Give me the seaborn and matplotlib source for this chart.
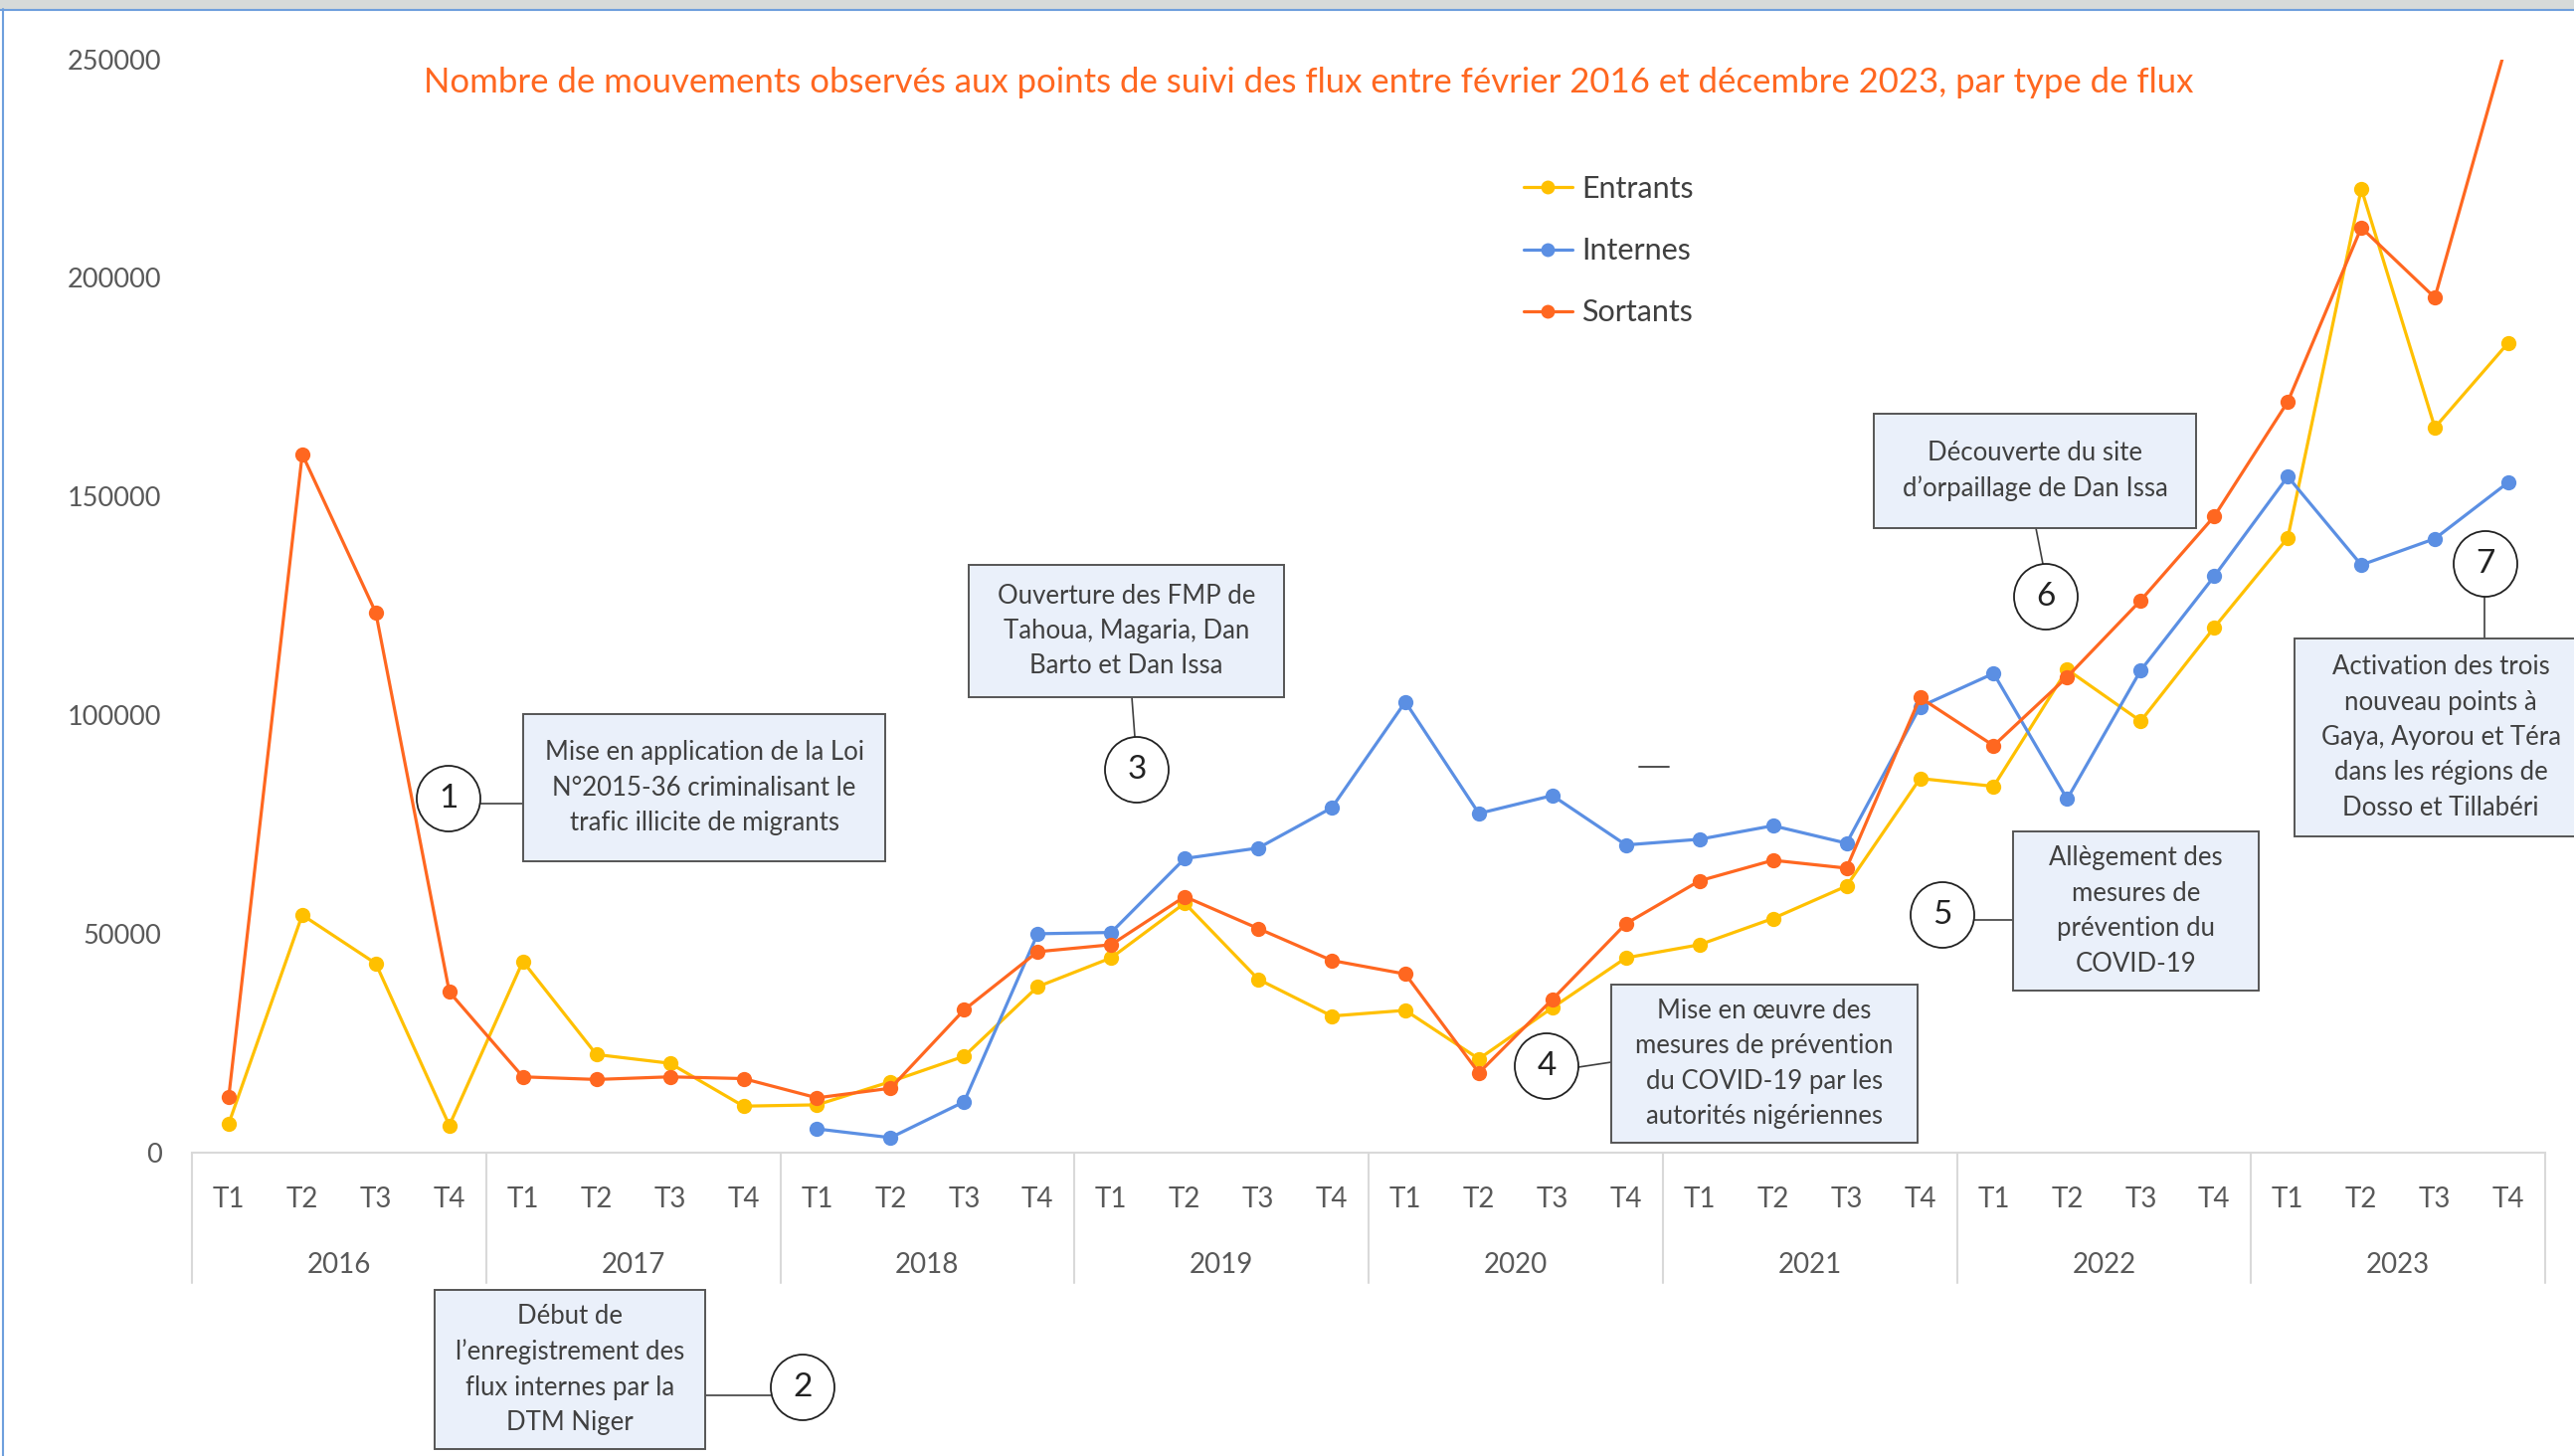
import matplotlib
matplotlib.use("Agg")
import matplotlib.pyplot as plt
import matplotlib.transforms as mtransforms
from matplotlib.patches import Rectangle, Ellipse
from matplotlib.lines import Line2D
import numpy as np
import pandas as pd
import seaborn as sns

# ---------------- data ----------------
years = ["2016", "2017", "2018", "2019", "2020", "2021", "2022", "2023"]
quarters = ["T1", "T2", "T3", "T4"]
series_names = ["Entrants", "Internes", "Sortants"]

entrants = [6700, 54400, 43300, 6300,
            43800, 22500, 20500, 10700,
            11000, 16300, 22100, 38000,
            44600, 57100, 39700, 31300,
            32600, 21500, 33200, 44600,
            47600, 53600, 61000, 85600,
            83800, 110500, 98700, 120100,
            140600, 220400, 165800, 185200]

internes = [np.nan, np.nan, np.nan, np.nan,
            np.nan, np.nan, np.nan, np.nan,
            5500, 3500, 11700, 50100,
            50400, 67300, 69700, 78900,
            103100, 77600, 81700, 70400,
            71700, 74800, 70800, 102000,
            109600, 80900, 110300, 131800,
            154600, 134400, 140400, 153300]

sortants = [12800, 159700, 123500, 36800,
            17400, 16800, 17400, 17000,
            12600, 14800, 32700, 46000,
            47600, 58600, 51300, 44000,
            40900, 18300, 35100, 52400,
            62200, 66900, 65100, 104100,
            93100, 108800, 126300, 145500,
            171700, 211500, 195500, 255000]

yticks = [0, 50000, 100000, 150000, 200000, 250000]

title = ("Nombre de mouvements observés aux points de suivi des flux entre "
         "février 2016 et décembre 2023, par type de flux")

notes = [
    "Mise en application de la Loi\nN°2015-36 criminalisant le\ntrafic illicite de migrants",
    "Début de\nl’enregistrement des\nflux internes par la\nDTM Niger",
    "Ouverture des FMP de\nTahoua, Magaria, Dan\nBarto et Dan Issa",
    "Mise en œuvre des\nmesures de prévention\ndu COVID-19 par les\nautorités nigériennes",
    "Allègement des\nmesures de\nprévention du\nCOVID-19",
    "Découverte du site\nd’orpaillage de Dan Issa",
    "Activation des trois\nnouveau points à\nGaya, Ayorou et Téra\ndans les régions de\nDosso et Tillabéri",
]

# ---------------- style ----------------
colors = {"Entrants": "#FFC000", "Internes": "#5B8FE3", "Sortants": "#FF6720"}
TXT = "#404040"
TICK = "#595959"
GRID = "#D9D9D9"
BOXFILL = "#EAF0FA"
BOXEDGE = "#555555"

sns.set_theme(style="white")
plt.rcParams["font.family"] = ["Lato", "DejaVu Sans"]

W, H = 2588, 1464
fig = plt.figure(figsize=(W / 100, H / 100), dpi=100)
fig.patch.set_facecolor("white")

X0, X1 = 193, 2559
Y0, YT = 1159.3, 59.5
ax = fig.add_axes([X0 / W, 1 - Y0 / H, (X1 - X0) / W, (Y0 - YT) / H])

labels_period = [f"{q} {y}" for y in years for q in quarters]
n = len(labels_period)
df = pd.DataFrame({
    "idx": list(range(n)) * 3,
    "serie": ["Entrants"] * n + ["Internes"] * n + ["Sortants"] * n,
    "valeur": entrants + internes + sortants,
}).dropna()

sns.lineplot(data=df, x="idx", y="valeur", hue="serie", hue_order=series_names,
             palette=colors, marker="o", markersize=11, markeredgewidth=0,
             linewidth=2.3, errorbar=None, legend=False, ax=ax)

ax.set_xlim(-0.5, n - 0.5)
ax.set_ylim(0, 250000)
ax.set_yticks(yticks)
ax.set_yticklabels([str(v) for v in yticks])
ax.tick_params(axis="y", length=0, pad=22, labelsize=19.5, labelcolor=TICK)
ax.set_xticks([])
ax.set_xlabel("")
ax.set_ylabel("")
for s in ["left", "right", "top"]:
    ax.spines[s].set_visible(False)
ax.spines["bottom"].set_color(GRID)
ax.spines["bottom"].set_linewidth(1.5)
ax.grid(False)

# category axis (quarters + years)
blend = mtransforms.blended_transform_factory(ax.transData, fig.transFigure)
for i, lab in enumerate(labels_period):
    ax.text(i, 1 - 1214 / H, lab.split()[0], transform=blend, ha="center",
            va="baseline", fontsize=20, color=TICK)
for k, y in enumerate(years):
    ax.text(4 * k + 1.5, 1 - 1280 / H, y, transform=blend, ha="center",
            va="baseline", fontsize=20, color=TICK)
for k in range(len(years) + 1):
    b = 4 * k - 0.5
    fig.add_artist(Line2D([b, b], [1 - Y0 / H, 1 - 1290 / H], transform=blend,
                          color=GRID, lw=1.5))

# title
fig.text(1316 / W, 1 - 83 / H, title, ha="center", va="center",
         fontsize=25, color="#FF6720")

# legend
handles = [Line2D([0], [0], color=colors[s], marker="o", markersize=10,
                  markeredgewidth=0, lw=2.3) for s in series_names]
leg = fig.legend(handles, series_names, loc="upper left",
                 bbox_to_anchor=(1532 / W, 1 - 176 / H), frameon=False,
                 fontsize=22, handlelength=1.6, handletextpad=0.3,
                 labelspacing=1.12, borderpad=0, borderaxespad=0)
for t in leg.get_texts():
    t.set_color(TXT)

# ---------------- annotations (pixel layout) ----------------
def fx(x):
    return x / W


def fy(y):
    return 1 - y / H


boxes = [(526, 718, 890, 866), (437, 1297, 709, 1457), (974, 568, 1291, 701),
         (1620, 990, 1928, 1149), (2024, 836, 2271, 996), (1884, 416, 2208, 531),
         (2307, 642, 2601, 841)]
circles = [(451, 803), (807, 1395), (1143, 774), (1555, 1072), (1953, 920),
           (2057, 600), (2499, 567)]
connectors = [((483, 808), (526, 808)), ((709, 1403), (775, 1403)),
              ((1138, 701), (1141, 741)), ((1587, 1073), (1620, 1068)),
              ((1985, 925), (2024, 925)), ((2047, 531), (2054, 567)),
              ((2498, 600), (2498, 642))]

for k, (txt, (bx0, by0, bx1, by1), (cx, cy), (p0, p1)) in enumerate(
        zip(notes, boxes, circles, connectors)):
    fig.add_artist(Rectangle((fx(bx0), fy(by1)), (bx1 - bx0) / W, (by1 - by0) / H,
                             transform=fig.transFigure, facecolor=BOXFILL,
                             edgecolor=BOXEDGE, lw=1.4, zorder=5))
    fig.text(fx((bx0 + bx1) / 2), fy((by0 + by1) / 2), txt, ha="center",
             va="center", fontsize=18.5, color=TXT, linespacing=1.52,
             zorder=6)
    fig.add_artist(Ellipse((fx(cx), fy(cy)), 64 / W, 66 / H,
                           transform=fig.transFigure, facecolor="white",
                           edgecolor="#222222", lw=1.3, zorder=5))
    fig.text(fx(cx), fy(cy), str(k + 1), ha="center", va="center",
             fontsize=24, color="#222222", zorder=6)
    fig.add_artist(Line2D([fx(p0[0]), fx(p1[0])], [fy(p0[1]), fy(p1[1])],
                          transform=fig.transFigure, color=TXT, lw=1.2, zorder=4))

# stray dash in the reference
fig.add_artist(Line2D([fx(1648), fx(1678)], [fy(771), fy(771)],
                      transform=fig.transFigure, color=TXT, lw=1.3))

# window frame
fig.add_artist(Rectangle((0, fy(9)), 1, 9 / H, transform=fig.transFigure,
                         facecolor="#D6DAD9", edgecolor="none", zorder=10))
fig.add_artist(Line2D([0, 1], [fy(9.5), fy(9.5)], transform=fig.transFigure,
                      color="#6E9FDD", lw=1.5, zorder=11))
fig.add_artist(Line2D([fx(2.5), fx(2.5)], [0, fy(9)], transform=fig.transFigure,
                      color="#6E9FDD", lw=1.5, zorder=11))

fig.savefig("out.png", dpi=100, facecolor="white")
